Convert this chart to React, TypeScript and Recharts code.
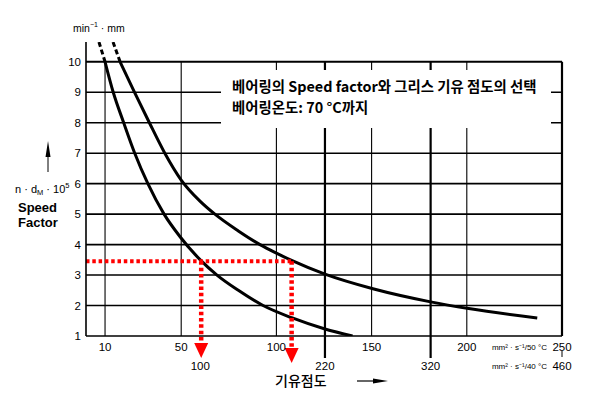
import React from 'react';
import { LineChart, Line, XAxis, YAxis, ReferenceLine, ReferenceDot } from 'recharts';

// 축 눈금
const speedTicks = [1, 2, 3, 4, 5, 6, 7, 8, 9, 10];
const visc50Ticks = [10, 50, 100, 150, 200, 250];
const visc40Pos = [60, 125.5, 181, 250];
const visc40Labels = ['100', '220', '320', '460'];

// 세로 격자 (50°C 눈금 / 40°C 굵은 선)
const gridThin = [10, 50, 100, 150, 200];
const gridThick = [125.5, 181];

// 왼쪽 곡선 (기유점도 mm²/s @50°C, speed factor)
const lowX = [10, 14.3, 19.8, 25.6, 32.5, 41, 49.5, 60, 68.8, 80, 93, 108, 125.5, 140];
const lowY = [10, 9, 8, 7, 6, 5, 4.25, 3.5, 3, 2.5, 2, 1.6, 1.23, 1.0];
const lowDashX = [6.8, 10];
const lowDashY = [10.65, 10];

// 오른쪽 곡선
const highX = [17.9, 25.5, 33.3, 41.4, 50, 60, 67.7, 80, 91.4, 100, 108, 125.5, 150.7, 181, 201, 237];
const highY = [10, 9, 8, 7, 6.12, 5.42, 5, 4.45, 4, 3.72, 3.48, 3.03, 2.55, 2.12, 1.9, 1.59];
const highDashX = [14.2, 17.9];
const highDashY = [10.65, 10];

// 선택 예시 (빨간 점선)
const selSpeed = 3.45;
const selVisc = [60.5, 108];
const selArrowTop = [0.77, 0.61];

const toPoints = (xs: number[], ys: number[]) => xs.map((x, i) => ({ x, y: ys[i] }));

const RED = '#ff0000';
const SANS = '"Liberation Sans", Arial, sans-serif';
const KR = '"Noto Sans CJK KR", sans-serif';

const Tick50 = ({ x, y, payload }: any) => (
  <g>
    {payload.value === 250 && (
      <text x={x - 15} y={y + 14} textAnchor="end" fontSize={8} fontFamily={SANS} fill="#000">
        mm² · s⁻¹/50 °C
      </text>
    )}
    <text x={x} y={y + 14.5} textAnchor="middle" fontSize={11.5} fontFamily={SANS} fill="#000">
      {payload.value}
    </text>
  </g>
);

const Tick40 = ({ x, y, payload, index }: any) => (
  <g>
    {payload.value === 250 && (
      <>
        <line x1={x} x2={x} y1={y - 3} y2={y + 3} stroke="#000" strokeWidth={1} />
        <text x={x - 15} y={y + 15} textAnchor="end" fontSize={8} fontFamily={SANS} fill="#000">
          mm² · s⁻¹/40 °C
        </text>
      </>
    )}
    <text x={x} y={y + 16} textAnchor="middle" fontSize={11.5} fontFamily={SANS} fill="#000">
      {visc40Labels[visc40Pos.indexOf(payload.value)] ?? visc40Labels[index]}
    </text>
  </g>
);

const ArrowHead = ({ cx, cy }: any) => (
  <polygon points={`${cx - 7},${cy} ${cx + 7},${cy} ${cx},${cy + 15}`} fill={RED} />
);

const App = () => {
  return (
    <div style={{ position: 'absolute', left: 0, top: 0, width: 597, height: 397, background: '#fff' }}>
      <LineChart
        width={597}
        height={397}
        margin={{ top: 42, right: 35, bottom: 25, left: 56 }}
      >
        <XAxis
          dataKey="x"
          type="number"
          domain={[0, 250]}
          ticks={visc50Ticks}
          interval={0}
          axisLine={false}
          tickLine={false}
          tickSize={0}
          tickMargin={0}
          height={18}
          tick={<Tick50 />}
          allowDataOverflow
        />
        <XAxis
          xAxisId="c40"
          dataKey="x"
          type="number"
          domain={[0, 250]}
          ticks={visc40Pos}
          interval={0}
          axisLine={false}
          tickLine={false}
          tickSize={0}
          tickMargin={0}
          height={18}
          tick={<Tick40 />}
          allowDataOverflow
        />
        <YAxis
          type="number"
          domain={[1, 10.65]}
          ticks={speedTicks}
          interval={0}
          width={30}
          tickLine={false}
          tickSize={3}
          tickMargin={2}
          axisLine={{ stroke: '#000', strokeWidth: 1.6 }}
          tick={{ fontSize: 11.5, fill: '#000', fontFamily: SANS }}
          allowDataOverflow
        />

        {speedTicks.map((v) => (
          <ReferenceLine
            key={`h-${v}`}
            y={v}
            stroke="#000"
            strokeWidth={v === 10 ? 2 : 1.6}
          />
        ))}
        {gridThin.map((v) => (
          <ReferenceLine
            key={`v-${v}`}
            segment={[{ x: v, y: 1 }, { x: v, y: 10 }]}
            stroke="#000"
            strokeWidth={1.1}
          />
        ))}
        {gridThick.map((v) => (
          <ReferenceLine
            key={`vt-${v}`}
            segment={[{ x: v, y: 0.28 }, { x: v, y: 10 }]}
            stroke="#000"
            strokeWidth={2.2}
            ifOverflow="visible"
          />
        ))}
        <ReferenceLine segment={[{ x: 250, y: 1 }, { x: 250, y: 10 }]} stroke="#000" strokeWidth={2.2} />

        <Line
          data={toPoints(lowX, lowY)}
          dataKey="y"
          type="monotone"
          stroke="#000"
          strokeWidth={3}
          dot={false}
          isAnimationActive={false}
        />
        <Line
          data={toPoints(highX, highY)}
          dataKey="y"
          type="monotone"
          stroke="#000"
          strokeWidth={3}
          dot={false}
          isAnimationActive={false}
        />
        <Line
          data={toPoints(lowDashX, lowDashY)}
          dataKey="y"
          type="linear"
          stroke="#000"
          strokeWidth={3}
          strokeDasharray="5 3"
          dot={false}
          isAnimationActive={false}
        />
        <Line
          data={toPoints(highDashX, highDashY)}
          dataKey="y"
          type="linear"
          stroke="#000"
          strokeWidth={3}
          strokeDasharray="5 3"
          dot={false}
          isAnimationActive={false}
        />

        <ReferenceLine
          segment={[{ x: 0, y: selSpeed }, { x: selVisc[1], y: selSpeed }]}
          stroke={RED}
          strokeWidth={4}
          strokeDasharray="3.5 2.8"
        />
        {selVisc.map((v, i) => (
          <ReferenceLine
            key={`sel-${v}`}
            segment={[{ x: v, y: selSpeed }, { x: v, y: selArrowTop[i] }]}
            stroke={RED}
            strokeWidth={4.5}
            strokeDasharray="3.5 2.8"
            ifOverflow="visible"
          />
        ))}
        {selVisc.map((v, i) => (
          <ReferenceDot
            key={`arr-${v}`}
            x={v}
            y={selArrowTop[i]}
            r={0}
            ifOverflow="visible"
            shape={<ArrowHead />}
          />
        ))}
      </LineChart>

      <svg
        width={597}
        height={397}
        style={{ position: 'absolute', left: 0, top: 0, pointerEvents: 'none' }}
      >
        <rect x={221} y={70} width={330} height={58} fill="#fff" />
        <text x={232} y={92} fontSize={14.4} fontWeight={700} fontFamily={KR} fill="#000">
          베어링의 Speed factor와 그리스 기유 점도의 선택
        </text>
        <text x={232} y={113} fontSize={14.4} fontWeight={700} fontFamily={KR} fill="#000">
          베어링온도: 70 °C까지
        </text>

        <text x={73} y={32} fontSize={10.5} fontFamily={SANS} fill="#000">
          min<tspan dy={-5} fontSize={7}>−1</tspan>
          <tspan dy={5}> · mm</tspan>
        </text>

        <line x1={48} x2={48} y1={172} y2={152} stroke="#000" strokeWidth={1} />
        <polygon points="45.5,157 50.5,157 48,141" fill="#000" />
        <text x={15} y={193} fontSize={11} fontFamily={SANS} fill="#000">
          n · d<tspan dy={2} fontSize={7.5}>M</tspan>
          <tspan dy={-2}> · 10</tspan>
          <tspan dy={-5} fontSize={7.5}>5</tspan>
        </text>
        <text x={18} y={212} fontSize={13} fontWeight={700} fontFamily={SANS} fill="#000">
          Speed
        </text>
        <text x={18} y={227} fontSize={13} fontWeight={700} fontFamily={SANS} fill="#000">
          Factor
        </text>

        <text x={275} y={386} fontSize={14} fontFamily={KR} fontWeight={500} fill="#000">
          기유점도
        </text>
        <line x1={357} x2={378} y1={381} y2={381} stroke="#000" strokeWidth={1.2} />
        <polygon points="373,378.5 373,383.5 388,381" fill="#000" />
      </svg>
    </div>
  );
};

export default App;
